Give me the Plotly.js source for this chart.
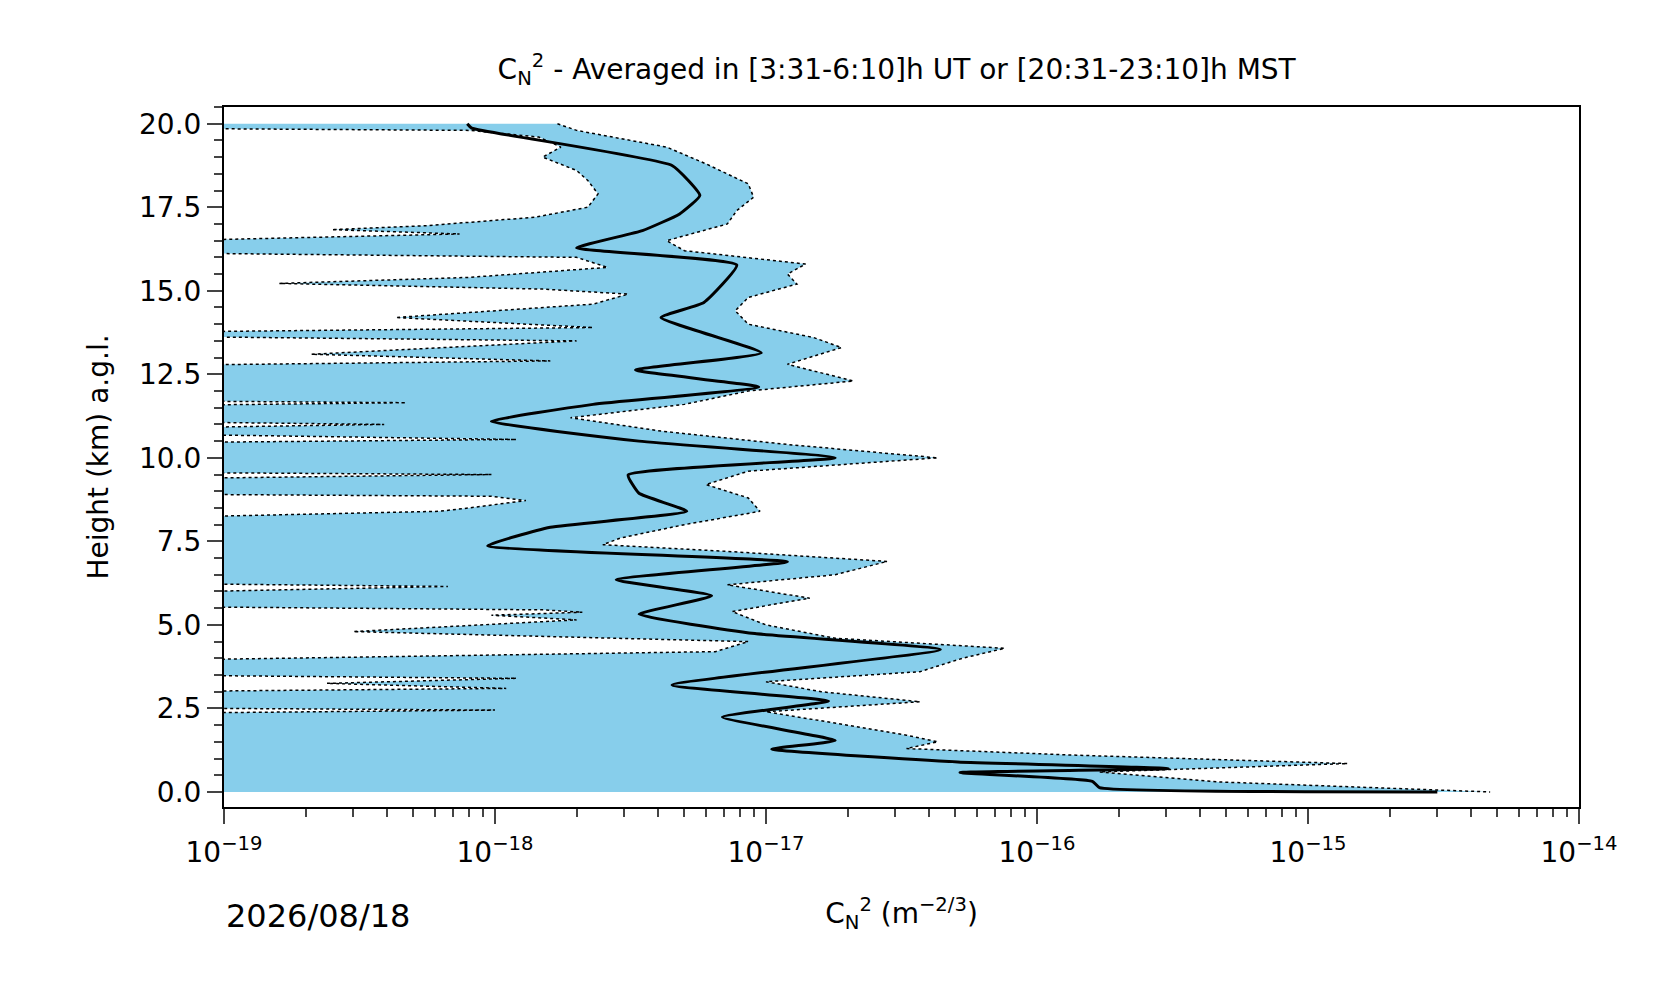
<!DOCTYPE html>
<html>
<head>
<script src="https://cdn.plot.ly/plotly-3.0.1.min.js"></script>
<style>body{margin:0;background:#fff}</style>
</head>
<body>
<div id="plot" style="width:1676px;height:1003px"></div>
<script>
// mean Cn2 profile
const meanH = [20.0, 19.87, 18.75, 17.85, 17.3, 16.8, 16.28, 15.77, 14.65, 14.2, 13.14, 12.63, 12.12, 11.6, 11.09, 10.5, 10.0, 9.49, 8.94, 8.4, 7.92, 7.37, 6.89, 6.35, 5.87, 5.32, 4.74, 4.26, 3.2, 2.72, 2.24, 1.54, 1.28, 0.9, 0.7, 0.58, 0.32, 0.13, 0.0];
const meanV = [7.9e-19, 8.2e-19, 4.5e-18, 5.7e-18, 4.8e-18, 3.5e-18, 2.0e-18, 7.8e-18, 5.9e-18, 4.1e-18, 9.6e-18, 3.3e-18, 9.4e-18, 2.3e-18, 9.7e-19, 3.4e-18, 1.8e-17, 3.1e-18, 3.4e-18, 5.1e-18, 1.6e-18, 9.4e-19, 1.2e-17, 2.8e-18, 6.3e-18, 3.4e-18, 9.1e-18, 4.4e-17, 4.5e-18, 1.7e-17, 6.9e-18, 1.8e-17, 1.05e-17, 5.1e-17, 3.05e-16, 5.2e-17, 1.6e-16, 1.7e-16, 3.0e-15];

// upper envelope
const upH = [20.0, 19.8, 19.3, 18.8, 18.2, 17.8, 17.4, 17.0, 16.5, 16.2, 15.8, 15.5, 15.2, 14.8, 14.4, 14.0, 13.6, 13.3, 12.8, 12.3, 12.0, 11.6, 11.2, 10.8, 10.4, 10.0, 9.6, 9.2, 8.8, 8.4, 8.0, 7.6, 7.4, 7.2, 6.9, 6.5, 6.2, 5.8, 5.4, 5.0, 4.6, 4.3, 4.0, 3.6, 3.3, 3.0, 2.7, 2.4, 2.0, 1.7, 1.5, 1.3, 1.1, 0.85, 0.6, 0.3, 0.0];
const upV = [1.7e-18, 2.0e-18, 4.3e-18, 6.0e-18, 8.6e-18, 9.0e-18, 7.8e-18, 7.2e-18, 4.3e-18, 5.0e-18, 1.4e-17, 1.2e-17, 1.3e-17, 8.6e-18, 7.7e-18, 8.6e-18, 1.5e-17, 1.9e-17, 1.2e-17, 2.1e-17, 8.6e-18, 5.0e-18, 1.9e-18, 4.1e-18, 1.2e-17, 4.3e-17, 8.6e-18, 6.0e-18, 8.6e-18, 9.5e-18, 5.0e-18, 2.9e-18, 2.5e-18, 7.2e-18, 2.8e-17, 1.8e-17, 7.2e-18, 1.45e-17, 7.5e-18, 1.0e-17, 1.8e-17, 7.6e-17, 5.3e-17, 3.7e-17, 1.0e-17, 1.6e-17, 3.7e-17, 1.0e-17, 2.0e-17, 3.3e-17, 4.3e-17, 3.3e-17, 1.4e-16, 1.4e-15, 1.7e-16, 4.7e-16, 4.7e-15];

// lower envelope (values below 1e-19 fall off the left edge)
const loH = [20.0, 19.9, 19.8, 19.6, 19.3, 19.0, 18.6, 18.3, 17.9, 17.5, 17.2, 16.95, 16.83, 16.7, 16.35, 16.2, 16.0, 15.7, 15.4, 15.22, 15.05, 14.9, 14.6, 14.2, 13.9, 13.7, 13.5, 13.1, 12.9, 12.7, 11.75, 11.65, 11.5, 11.15, 11.0, 10.8, 10.55, 10.4, 9.6, 9.5, 9.3, 8.95, 8.85, 8.72, 8.5, 8.4, 8.08, 6.3, 6.15, 5.85, 5.6, 5.45, 5.38, 5.29, 5.15, 4.8, 4.5, 4.2, 3.85, 3.55, 3.4, 3.25, 3.1, 2.95, 2.55, 2.45, 2.3, 0.1, 0.0];
const loV = [1e-20, 1e-20, 8.1e-19, 1.45e-18, 1.75e-18, 1.5e-18, 2.0e-18, 2.2e-18, 2.4e-18, 2.2e-18, 1.4e-18, 5.6e-19, 2.5e-19, 7.4e-19, 1e-20, 1e-20, 2.0e-18, 2.6e-18, 8e-19, 1.6e-19, 1.5e-18, 3.1e-18, 2.3e-18, 4.3e-19, 2.3e-18, 1e-20, 2.0e-18, 2.1e-19, 1.6e-18, 1e-20, 1e-20, 4.7e-19, 1e-20, 1e-20, 3.9e-19, 1e-20, 1.2e-18, 1e-20, 1e-20, 9.7e-19, 1e-20, 1e-20, 9.7e-19, 1.3e-18, 8e-19, 6.2e-19, 1e-20, 1e-20, 6.7e-19, 1e-20, 1e-20, 1.5e-18, 2.1e-18, 9.7e-19, 2.0e-18, 3.0e-19, 8.6e-18, 6.5e-18, 1e-20, 1e-20, 1.2e-18, 2.4e-19, 1.1e-18, 1e-20, 1e-20, 1.0e-18, 1e-20, 1e-20, 1e-20];

const dateLabel = '2026/08/18';
const majorVals = [1e-19, 1e-18, 1e-17, 1e-16, 1e-15, 1e-14];
const majorText = ['10<sup>−19</sup>', '10<sup>−18</sup>', '10<sup>−17</sup>', '10<sup>−16</sup>', '10<sup>−15</sup>', '10<sup>−14</sup>'];

const font = {family: 'DejaVu Sans', size: 28, color: '#000'};

const data = [
  {
    x: upV.concat(loV.slice().reverse()),
    y: upH.concat(loH.slice().reverse()),
    fill: 'toself', fillcolor: '#87ceeb', mode: 'none',
    showlegend: false, hoverinfo: 'skip',
  },
  {x: upV, y: upH, mode: 'lines', line: {color: '#000', width: 1.5, dash: 'dot'}, showlegend: false},
  {x: loV, y: loH, mode: 'lines', line: {color: '#000', width: 1.5, dash: 'dot'}, showlegend: false},
  {x: meanV, y: meanH, mode: 'lines', line: {color: '#000', width: 3, shape: 'spline', smoothing: 0.4}, showlegend: false},
];

const layout = {
  width: 1676, height: 1003,
  margin: {l: 224, r: 97, t: 107, b: 196},
  paper_bgcolor: '#fff', plot_bgcolor: '#fff',
  font: font,
  title: {text: 'C<sub>N</sub><sup>2</sup> - Averaged in [3:31-6:10]h UT or [20:31-23:10]h MST',
    font: {family: 'DejaVu Sans', size: 28}, x: 0.535, xanchor: 'center', y: 0.931, yanchor: 'middle'},
  xaxis: {
    type: 'log', range: [-19, -14],
    tickvals: majorVals, ticktext: majorText,
    ticks: 'outside', ticklen: 15, tickwidth: 2, ticklabelstandoff: 4,
    minor: {ticks: 'outside', ticklen: 8, tickwidth: 1.5, dtick: 'D1', showgrid: false},
    showgrid: false, zeroline: false,
    showline: true, mirror: true, linecolor: '#000', linewidth: 2,
    title: {text: 'C<sub>N</sub><sup>2</sup> (m<sup>−2/3</sup>)', font: font, standoff: 36},
  },
  yaxis: {
    range: [-0.45, 20.5],
    tickvals: [0, 2.5, 5, 7.5, 10, 12.5, 15, 17.5, 20],
    ticktext: ['0.0', '2.5', '5.0', '7.5', '10.0', '12.5', '15.0', '17.5', '20.0'],
    ticks: 'outside', ticklen: 15, tickwidth: 2,
    minor: {ticks: 'outside', ticklen: 8, tickwidth: 1.5, dtick: 0.5, showgrid: false},
    showgrid: false, zeroline: false,
    showline: true, mirror: true, linecolor: '#000', linewidth: 2,
    title: {text: 'Height (km) a.g.l.', font: font, standoff: 22},
  },
  annotations: [
    {text: dateLabel, xref: 'paper', yref: 'paper', x: 0, y: -0.125,
     xanchor: 'left', yanchor: 'top', showarrow: false, font: {family: 'DejaVu Sans', size: 32}},
  ],
};

Plotly.newPlot('plot', data, layout, {displayModeBar: false});
</script>
</body>
</html>
